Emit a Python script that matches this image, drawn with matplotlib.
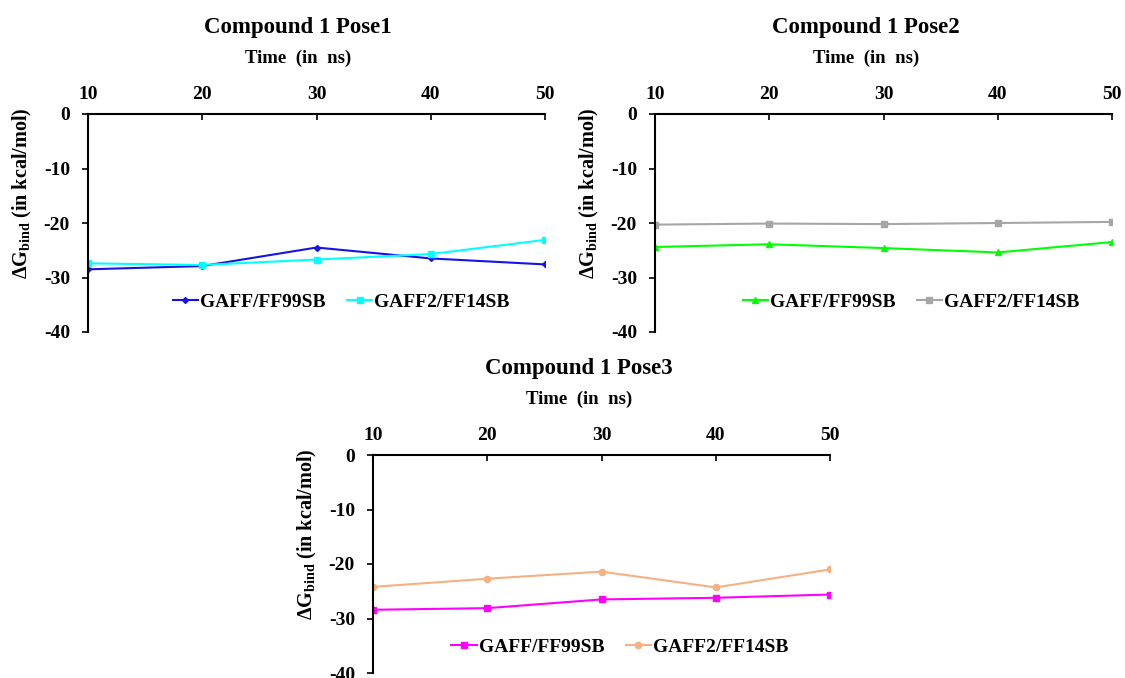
import matplotlib
matplotlib.use('agg')
from matplotlib import pyplot as plt

plt.rcParams['font.family'] = ['Liberation Serif', 'DejaVu Serif']
plt.rcParams['font.weight'] = 'bold'
plt.rcParams['axes.unicode_minus'] = False
plt.rcParams['mathtext.fontset'] = 'custom'
plt.rcParams['mathtext.rm'] = 'Liberation Serif'
plt.rcParams['mathtext.bf'] = 'Liberation Serif:bold'

# data
time_ns = [10, 20, 30, 40, 50]
pose1_ff99 = [-28.5, -27.9, -24.5, -26.5, -27.6]
pose1_ff14 = [-27.4, -27.7, -26.7, -25.7, -23.1]
pose2_ff99 = [-24.4, -23.9, -24.6, -25.4, -23.5]
pose2_ff14 = [-20.3, -20.1, -20.2, -20.0, -19.8]
pose3_ff99 = [-28.4, -28.1, -26.5, -26.2, -25.6]
pose3_ff14 = [-24.2, -22.7, -21.4, -24.3, -21.0]
series_labels = ['GAFF/FF99SB', 'GAFF2/FF14SB']
y_ticks = [0, -10, -20, -30, -40]

W, H = 1125, 678
fig = plt.figure(figsize=(W / 100, H / 100), dpi=100)

panels = [
    # title, left px, top px, data1, data2, style1, style2, legend x/y, title x
    ('Compound 1 Pose1', 88, 114, pose1_ff99, pose1_ff14,
     dict(color='#1414E6', marker='D', markersize=3),
     dict(color='#00FFFF', marker='s', markersize=4.5), 0.554, 0.138, 0.46),
    ('Compound 1 Pose2', 655, 114, pose2_ff99, pose2_ff14,
     dict(color='#00FF00', marker='^', markersize=5),
     dict(color='#A6A6A6', marker='s', markersize=4.5), 0.56, 0.138, 0.462),
    ('Compound 1 Pose3', 373, 455, pose3_ff99, pose3_ff14,
     dict(color='#FF00FF', marker='s', markersize=5),
     dict(color='#F4B183', marker='o', markersize=4.5), 0.54, 0.12, 0.45),
]

ax_w, ax_h = 457, 218
for title, left, top, d1, d2, s1, s2, leg_x, leg_y, tx in panels:
    ax = fig.add_axes([left / W, (H - top - ax_h) / H, ax_w / W, ax_h / H])
    ax.plot(time_ns, d1, lw=1.5, label=series_labels[0], **s1)
    ax.plot(time_ns, d2, lw=1.5, label=series_labels[1], **s2)
    ax.set_xlim(10, 50)
    ax.set_ylim(-40, 0)
    ax.set_xticks(time_ns)
    ax.set_yticks(y_ticks)
    ax.xaxis.tick_top()
    for sp in ['right', 'bottom']:
        ax.spines[sp].set_visible(False)
    for sp in ['left', 'top']:
        ax.spines[sp].set_linewidth(1.5)
    ax.tick_params(axis='x', direction='in', length=4, width=1.2, labelsize=14, pad=8)
    ax.tick_params(axis='y', direction='out', length=4, width=1.2, labelsize=14, pad=9)
    for lbl in ax.get_xticklabels() + ax.get_yticklabels():
        lbl.set_fontweight('bold')
    ax.text(tx, 1 + 56 / ax_h, 'Time  (in  ns)', transform=ax.transAxes, fontsize=13.5,
            fontweight='bold', ha='center', va='center')
    ax.text(tx, 1 + 87 / ax_h, title, transform=ax.transAxes, fontsize=16.5,
            fontweight='bold', ha='center', va='center')
    ax.set_ylabel(r'$\Delta$G$_{\mathbf{bind}}$ (in kcal/mol)', fontsize=14.5, fontweight='bold')
    ax.yaxis.set_label_coords(-54 / ax_w, 0.635)
    ax.legend(loc='center', bbox_to_anchor=(leg_x, leg_y), ncol=2, frameon=False,
              handlelength=1.3, handletextpad=0.1, columnspacing=1.1,
              prop={'weight': 'bold', 'size': 14})

plt.savefig('out.png', dpi=100)
